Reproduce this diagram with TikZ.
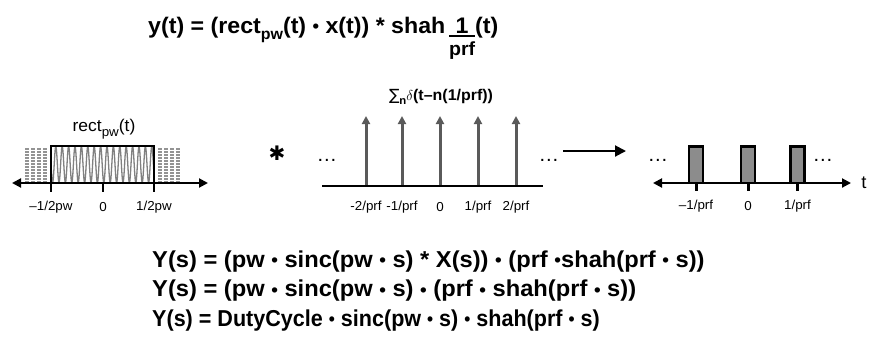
\documentclass[tikz,border=0pt]{standalone}
\usepackage{amsmath}
\usepackage{fontspec}
\setmainfont{Liberation Sans}[FakeStretch=1.03]
\newfontfamily\symfont{DejaVu Sans}
\usetikzlibrary{arrows.meta}
\newcommand\pdot{\raisebox{0.02em}{\scalebox{0.8}{•}}}
\definecolor{impgray}{HTML}{5A5A5A}
\definecolor{pulsegray}{HTML}{8C8C8C}
\definecolor{wavegray}{HTML}{808080}
\begin{document}
\begin{tikzpicture}[x=1pt,y=-1pt,
  eqn/.style={anchor=base west,inner sep=0pt,font=\bfseries\fontsize{23}{26}\selectfont},
  lbl/.style={inner sep=0pt,font=\fontsize{13}{15}\selectfont},
  axis/.style={black,line width=2pt,{Triangle[length=9pt,width=9pt]}-{Triangle[length=9pt,width=9pt]}},
  imp/.style={impgray,line width=3pt,-{Triangle[length=8pt,width=8pt]}},
  pulse/.style={fill=pulsegray,draw=black,line width=2.6pt},
  wave/.style={wavegray,line width=1.3pt},
  dotcol/.style={wavegray!85,line width=4pt,dash pattern=on 1.6pt off 1.4pt},
  dots/.style={inner sep=0pt,font=\fontsize{20}{22}\selectfont}]
\useasboundingbox (0,0) rectangle (872,341);

% title
\node[eqn,font=\bfseries\fontsize{22.5}{26}\selectfont] (title) at (148,33) {y(t) = (rect\raisebox{-0.3em}{\fontsize{15.5}{17}\selectfont pw}(t) \pdot\ x(t)) * shah\,{\setlength{\arrayrulewidth}{2pt}\begin{tabular}[t]{@{}c@{}}1\\[-5.5pt]\hline \fontsize{19}{22}\selectfont prf\end{tabular}}(t)};

% ---------- left: rect * x(t)
\node[inner sep=0pt,font=\fontsize{17}{19}\selectfont] (rectlbl) at (104,129) {rect\raisebox{-0.3em}{\fontsize{13}{15}\selectfont pw}(t)};
\begin{scope}
  \clip (51,146) rectangle (154,183);
  \draw[wave] plot[domain=51:154,samples=500] (\x,{164.5+18*sin(56.25*(\x-51))});
\end{scope}
\foreach \c in {26.5,32.5,38.5,44.5,159.5,165.5,171.5,177.5}
  \draw[dotcol] (\c,148) -- (\c,182);
\coordinate (la) at (12,183);
\coordinate (lb) at (208,183);
\draw[axis] (la) -- (lb);
\draw[black,line width=2pt] (51,183) rectangle (154,146);
\foreach \p/\t/\n in {51/{–1/2pw}/l1,103/0/l2,154/{1/2pw}/l3}{
  \draw[black,line width=1.3pt] (\p,183) -- (\p,192);
  \node[lbl] (\n) at (\p,207) {\t};
}

% ---------- asterisk
\node[inner sep=0pt,font=\symfont\fontsize{20}{24}\selectfont] (star) at (277,153) {✱};

% ---------- middle: impulse train
\node[inner sep=0pt,font=\bfseries\fontsize{15.5}{19}\selectfont] (sumlbl) at (441,97) {{\symfont\mdseries ∑}\raisebox{-0.3em}{\fontsize{11}{13}\selectfont n}$\delta$(t–n(1/prf))};
\coordinate (ma) at (322,186);
\coordinate (mb) at (543,186);
\draw[black,line width=2pt] (ma) -- (mb);
\foreach \p/\t/\n in {366/{-2/prf}/m1,402/{-1/prf}/m2,440/0/m3,478/{1/prf}/m4,516/{2/prf}/m5}{
  \coordinate (\n b) at (\p,185);
  \coordinate (\n t) at (\p,116);
  \draw[imp] (\n b) -- (\n t);
  \node[lbl] (\n) at (\p,207) {\t};
}
\node[dots] (md1) at (327,160) {…};
\node[dots] (md2) at (549,160) {…};

% ---------- arrow
\coordinate (aa) at (563,151);
\coordinate (ab) at (626,151);
\draw[black,line width=2pt,-{Triangle[length=11pt,width=11pt]}] (aa) -- (ab);

% ---------- right: result
\coordinate (ra) at (653,183);
\coordinate (rb) at (851,183);
\foreach \p/\t/\n in {696/{–1/prf}/r1,748/0/r2,797.5/{1/prf}/r3}{
  \draw[pulse] (\p-7,183) rectangle (\p+7,146.5);
  \draw[black,line width=3pt] (\p,183) -- (\p,191);
  \node[lbl] (\n) at (\p,206) {\t};
}
\draw[axis] (ra) -- (rb);
\node[inner sep=0pt,font=\fontsize{18}{20}\selectfont] (tlbl) at (864,183) {t};
\node[dots] (rd1) at (658,160) {…};
\node[dots] (rd2) at (823,160) {…};

% ---------- bottom equations
\node[eqn] (eq1) at (152,267) {Y(s) = (pw \pdot\ sinc(pw \pdot\ s) * X(s)) \pdot\ (prf \pdot shah(prf \pdot\ s))};
\node[eqn] (eq2) at (152,296.5) {Y(s) = (pw \pdot\ sinc(pw \pdot\ s) \pdot\ (prf \pdot\ shah(prf \pdot\ s))};
\node[eqn] (eq3) at (152,326) {\scalebox{0.91}[1]{Y(s) = DutyCycle \pdot\ sinc(pw \pdot\ s) \pdot\ shah(prf \pdot\ s)}};
\end{tikzpicture}
\end{document}
